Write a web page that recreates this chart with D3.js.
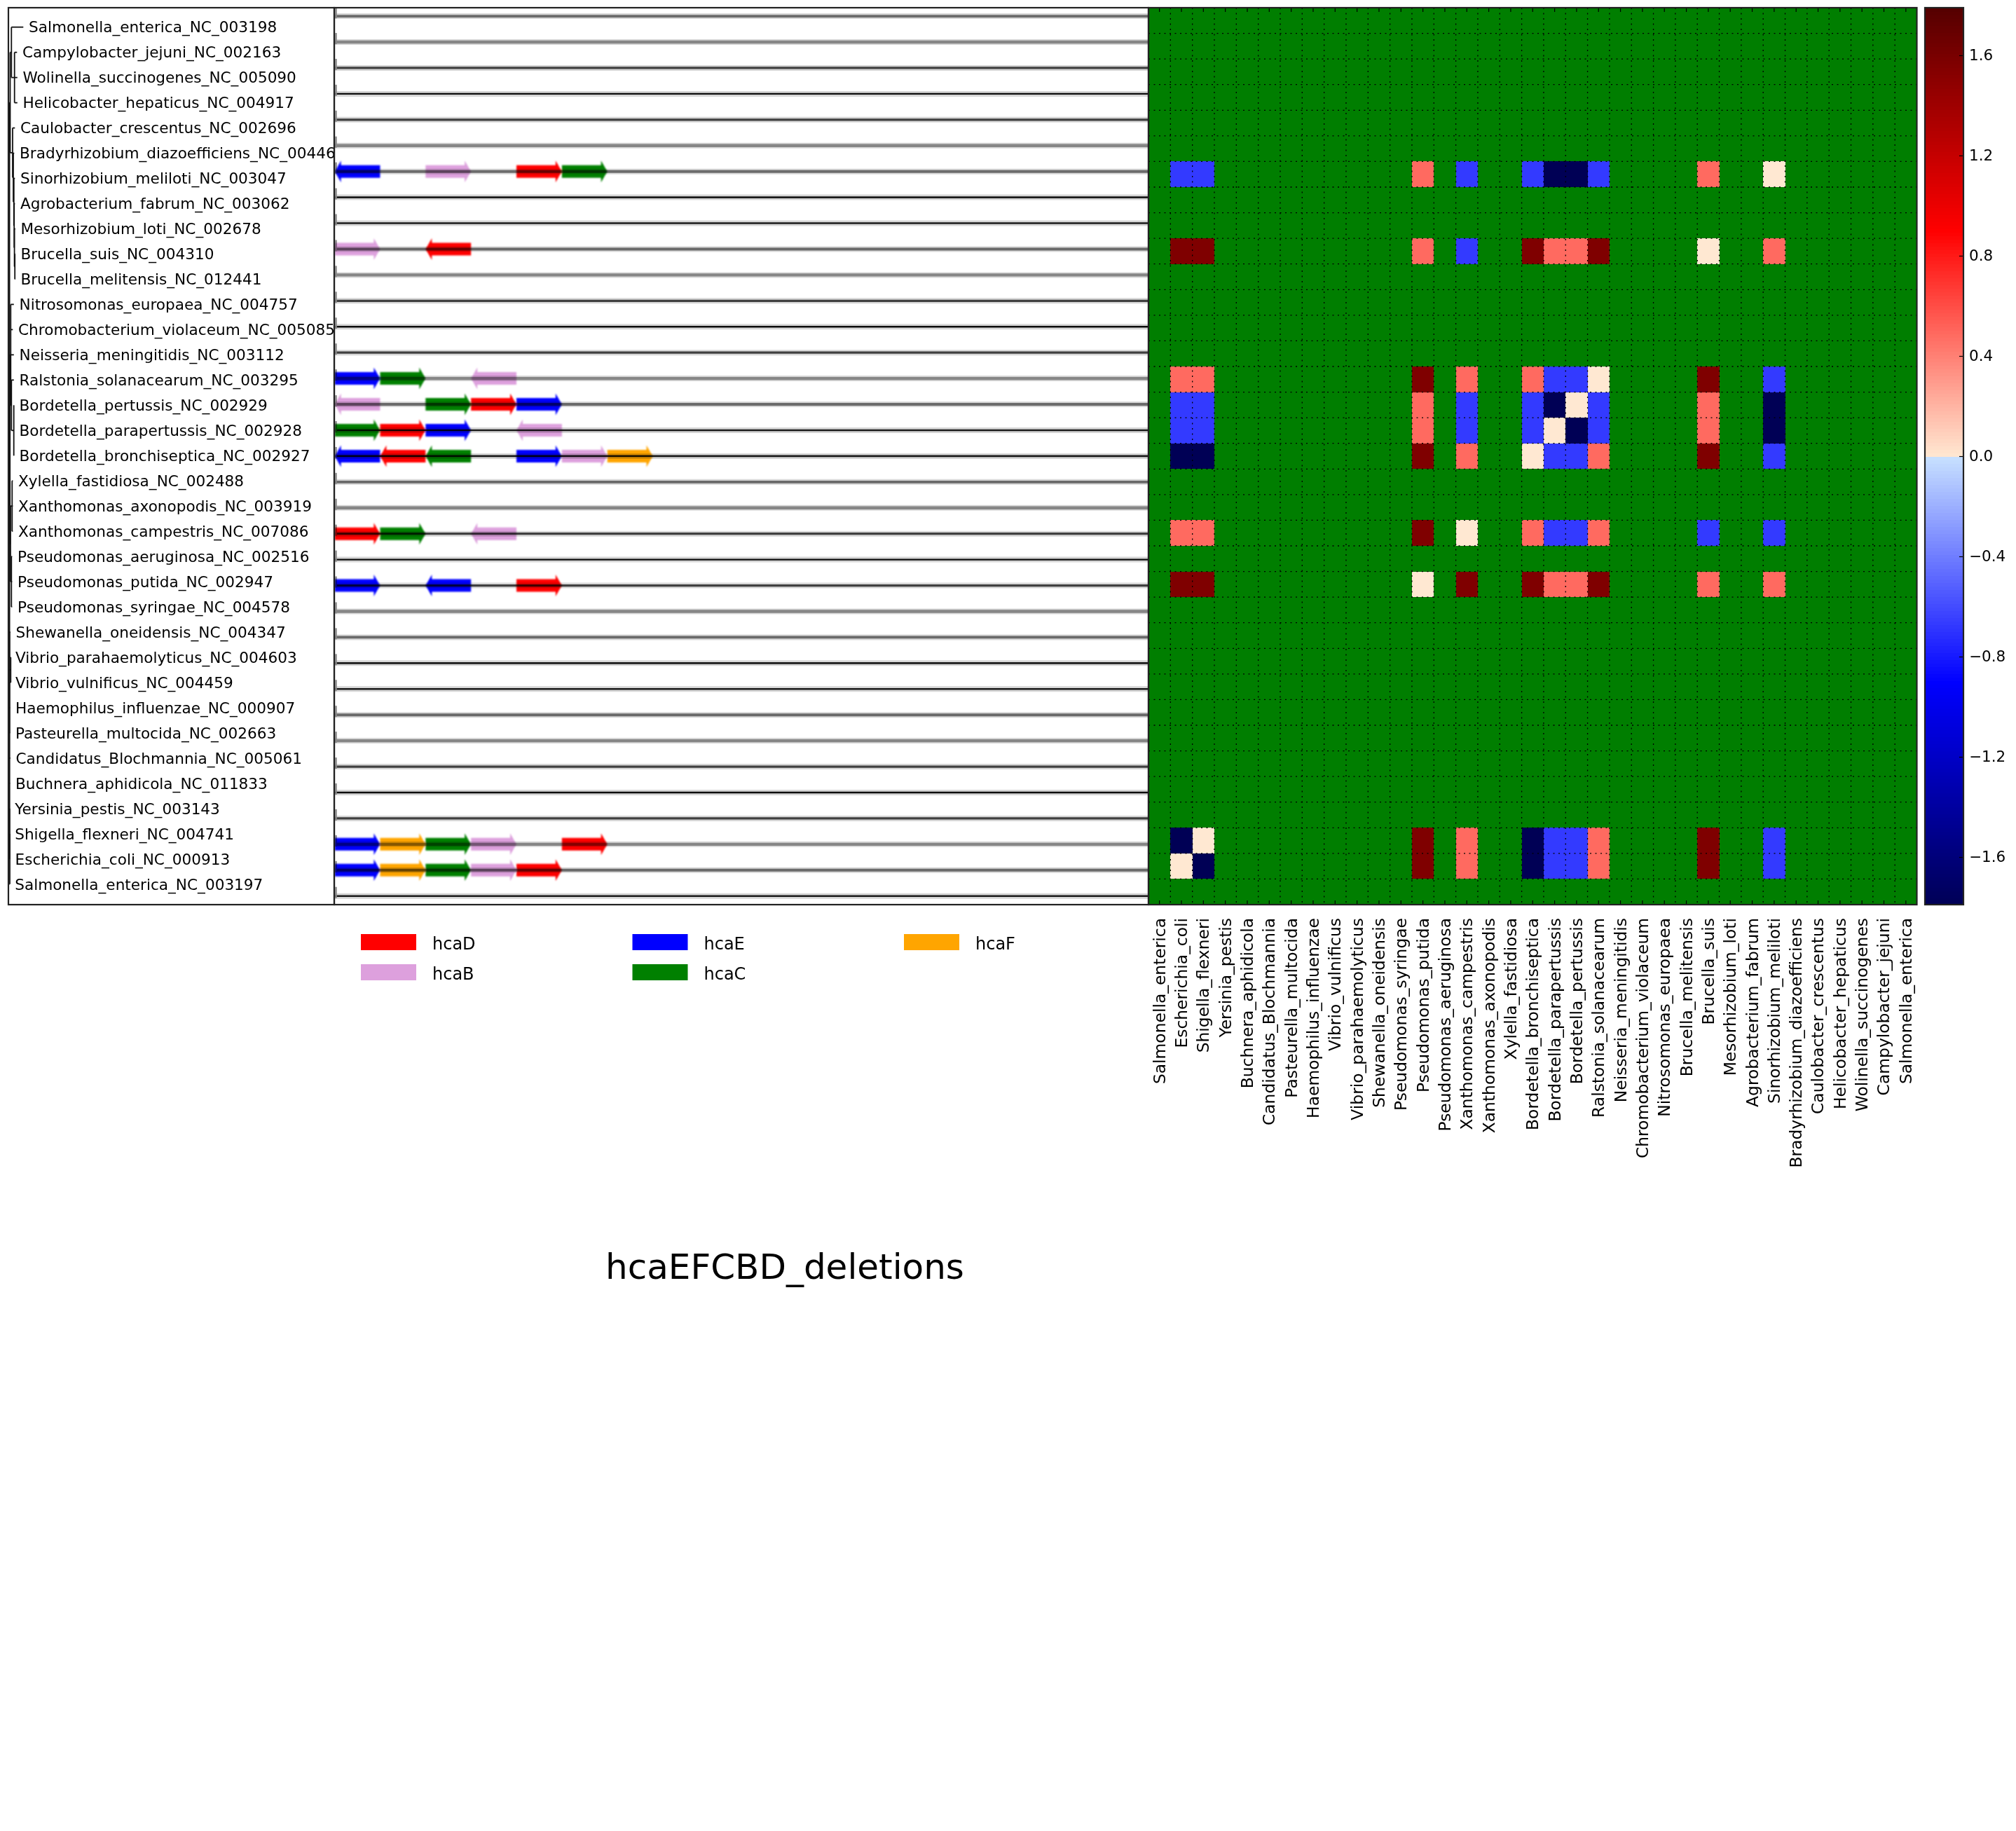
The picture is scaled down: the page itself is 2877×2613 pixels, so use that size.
<!DOCTYPE html>
<html>
<head>
<meta charset="utf-8">
<script src="https://cdn.jsdelivr.net/npm/d3@7"></script>
<style>
body { margin: 0; background: #fff; }
text { font-family: "DejaVu Sans"; fill: #000; }
</style>
</head>
<body>
<svg id="chart" width="2877" height="2613"></svg>
<script>
// leaf order of the tree, top to bottom
const species = [
    "Salmonella_enterica_NC_003198", "Campylobacter_jejuni_NC_002163", "Wolinella_succinogenes_NC_005090",
    "Helicobacter_hepaticus_NC_004917", "Caulobacter_crescentus_NC_002696", "Bradyrhizobium_diazoefficiens_NC_004463",
    "Sinorhizobium_meliloti_NC_003047", "Agrobacterium_fabrum_NC_003062", "Mesorhizobium_loti_NC_002678",
    "Brucella_suis_NC_004310", "Brucella_melitensis_NC_012441", "Nitrosomonas_europaea_NC_004757",
    "Chromobacterium_violaceum_NC_005085", "Neisseria_meningitidis_NC_003112", "Ralstonia_solanacearum_NC_003295",
    "Bordetella_pertussis_NC_002929", "Bordetella_parapertussis_NC_002928", "Bordetella_bronchiseptica_NC_002927",
    "Xylella_fastidiosa_NC_002488", "Xanthomonas_axonopodis_NC_003919", "Xanthomonas_campestris_NC_007086",
    "Pseudomonas_aeruginosa_NC_002516", "Pseudomonas_putida_NC_002947", "Pseudomonas_syringae_NC_004578",
    "Shewanella_oneidensis_NC_004347", "Vibrio_parahaemolyticus_NC_004603", "Vibrio_vulnificus_NC_004459",
    "Haemophilus_influenzae_NC_000907", "Pasteurella_multocida_NC_002663", "Candidatus_Blochmannia_NC_005061",
    "Buchnera_aphidicola_NC_011833", "Yersinia_pestis_NC_003143", "Shigella_flexneri_NC_004741",
    "Escherichia_coli_NC_000913", "Salmonella_enterica_NC_003197"
];

// distance of each leaf from the root
const tipDepth = [20.3, 11.3, 11.8, 11.8, 8.3, 7.3, 8.3, 8.3, 8.7, 8.7, 8.7, 6.8, 5.3, 6.8, 6.8, 6.8, 6.8, 6.8,
    5.3, 5.3, 5.3, 4.3, 4.3, 4.3, 1.8, 1.3, 1.3, 1.3, 1.3, 1.8, 1.3, 0.5, 0.5, 0.9, 0.5];

// clades as [depth, ...children], a plain number is a leaf index
const tree = [0.6,
    [1.5,
        [3.3, 0, [7.7, 1, 2, 3]],
        [5, 4, [6, 5, [6.8, 6, [7.2, 7, [7.6, 8, [8.2, 9, 10]]]]]]
    ],
    [1.2,
        [2.3, 11, 12, 13, [3.3, 14, [6.7, 15, 16, 17]]],
        [2, [4.3, 18, 19, 20], [3.3, 21, 22, 23]]
    ],
    [0.7, 24, [2.3, 25, 26], 27, 28, 29, 30, [0.7, 31, [1, 32, 33, 34]]]
];

// genes on the tracks: row, gene, slot along the track, strand
const geneRow =    [6, 6, 6, 6, 9, 9, 14, 14, 14, 15, 15, 15, 15, 16, 16, 16, 16, 17, 17, 17, 17, 17, 17,
    20, 20, 20, 22, 22, 22, 32, 32, 32, 32, 32, 33, 33, 33, 33, 33];
const geneName =   ["hcaE", "hcaB", "hcaD", "hcaC", "hcaB", "hcaD", "hcaE", "hcaC", "hcaB", "hcaB", "hcaC", "hcaD", "hcaE",
    "hcaC", "hcaD", "hcaE", "hcaB", "hcaE", "hcaD", "hcaC", "hcaE", "hcaB", "hcaF",
    "hcaD", "hcaC", "hcaB", "hcaE", "hcaE", "hcaD", "hcaE", "hcaF", "hcaC", "hcaB", "hcaD",
    "hcaE", "hcaF", "hcaC", "hcaB", "hcaD"];
const geneSlot =   [0, 2, 4, 5, 0, 2, 0, 1, 3, 0, 2, 3, 4, 0, 1, 2, 4, 0, 1, 2, 4, 5, 6,
    0, 1, 3, 0, 2, 4, 0, 1, 2, 3, 5, 0, 1, 2, 3, 4];
const geneStrand = [-1, 1, 1, 1, 1, -1, 1, 1, -1, -1, 1, 1, 1, 1, 1, 1, -1, -1, -1, -1, 1, 1, 1,
    1, 1, -1, 1, -1, 1, 1, 1, 1, 1, 1, 1, 1, 1, 1, 1];

const legendGenes = ["hcaD", "hcaB", "hcaE", "hcaC", "hcaF"];
const legendColors = ["#ff0000", "#dda0dd", "#0000ff", "#008000", "#ffa500"];

// heatmap columns, left to right
const heatColumns = [
    "Salmonella_enterica", "Escherichia_coli", "Shigella_flexneri", "Yersinia_pestis", "Buchnera_aphidicola",
    "Candidatus_Blochmannia", "Pasteurella_multocida", "Haemophilus_influenzae", "Vibrio_vulnificus",
    "Vibrio_parahaemolyticus", "Shewanella_oneidensis", "Pseudomonas_syringae", "Pseudomonas_putida",
    "Pseudomonas_aeruginosa", "Xanthomonas_campestris", "Xanthomonas_axonopodis", "Xylella_fastidiosa",
    "Bordetella_bronchiseptica", "Bordetella_parapertussis", "Bordetella_pertussis", "Ralstonia_solanacearum",
    "Neisseria_meningitidis", "Chromobacterium_violaceum", "Nitrosomonas_europaea", "Brucella_melitensis",
    "Brucella_suis", "Mesorhizobium_loti", "Agrobacterium_fabrum", "Sinorhizobium_meliloti",
    "Bradyrhizobium_diazoefficiens", "Caulobacter_crescentus", "Helicobacter_hepaticus", "Wolinella_succinogenes",
    "Campylobacter_jejuni", "Salmonella_enterica"
];

// only these rows and columns hold values, the rest is missing data
const heatRowIdx = [6, 9, 14, 15, 16, 17, 20, 22, 32, 33];
const heatColIdx = [1, 2, 12, 14, 17, 18, 19, 20, 25, 28];
const heatValues = [
    [-0.67, -0.67, 0.49, -0.67, -0.67, -1.79, -1.79, -0.67, 0.49, 0],
    [1.57, 1.57, 0.49, -0.67, 1.57, 0.49, 0.49, 1.57, 0, 0.49],
    [0.49, 0.49, 1.57, 0.49, 0.49, -0.67, -0.67, 0, 1.57, -0.67],
    [-0.67, -0.67, 0.49, -0.67, -0.67, -1.79, 0, -0.67, 0.49, -1.79],
    [-0.67, -0.67, 0.49, -0.67, -0.67, 0, -1.79, -0.67, 0.49, -1.79],
    [-1.79, -1.79, 1.57, 0.49, 0, -0.67, -0.67, 0.49, 1.57, -0.67],
    [0.49, 0.49, 1.57, 0, 0.49, -0.67, -0.67, 0.49, -0.67, -0.67],
    [1.57, 1.57, 0, 1.57, 1.57, 0.49, 0.49, 1.57, 0.49, 0.49],
    [-1.79, 0, 1.57, 0.49, -1.79, -0.67, -0.67, 0.49, 1.57, -0.67],
    [0, -1.79, 1.57, 0.49, -1.79, -0.67, -0.67, 0.49, 1.57, -0.67]
];
const colorTicks = [-1.6, -1.2, -0.8, -0.4, 0, 0.4, 0.8, 1.2, 1.6];
const titleText = "hcaEFCBD_deletions";

const plotTop = 11, plotBottom = 1291;
const leftX = 12, splitX = 477, heatL = 1639, heatR = 2735.5;
const barL = 2747, barR = 2802;
const n = species.length;

const svg = d3.select("#chart");
const defs = svg.append("defs");
defs.append("clipPath").attr("id", "labelClip").append("rect")
    .attr("x", leftX).attr("y", plotTop).attr("width", splitX - leftX).attr("height", plotBottom - plotTop);
defs.append("filter").attr("id", "soft")
    .attr("x", "-5%").attr("y", "-5%").attr("width", "110%").attr("height", "110%")
    .append("feGaussianBlur").attr("stdDeviation", 0.9);

/* ---------- tree and species labels ---------- */
const treeX = d3.scaleLinear().domain([0, 20.3]).range([13, 33.3]);
const labelY = d3.scaleLinear().domain([0, n - 1]).range([38.7, 1261.8]);

const treeG = svg.append("g").attr("fill", "none").attr("stroke", "#111").attr("stroke-width", 1.8);

function drawClade(node, parentDepth) {
    if (typeof node === "number") {
        const y = labelY(node);
        treeG.append("path").attr("d", `M${treeX(parentDepth)},${y}H${treeX(tipDepth[node])}`);
        return y;
    }
    const depth = node[0];
    const ys = node.slice(1).map(k => drawClade(k, depth));
    const y = (ys[0] + ys[ys.length - 1]) / 2;
    treeG.append("path").attr("d", `M${treeX(depth)},${ys[0]}V${ys[ys.length - 1]}`);
    treeG.append("path").attr("d", `M${treeX(parentDepth)},${y}H${treeX(depth)}`);
    return y;
}
drawClade(tree, 0);

svg.append("g").attr("clip-path", "url(#labelClip)")
    .selectAll("text").data(species).enter().append("text")
    .attr("x", (d, i) => treeX(tipDepth[i]) + 7.7)
    .attr("y", (d, i) => labelY(i))
    .attr("dy", "0.36em")
    .style("font-size", "21.6px")
    .text(d => d);

/* ---------- gene tracks ---------- */
const geneX = d3.scaleLinear().domain([0, 18]).range([477.6, 1645]);
const trackY = d3.scaleLinear().domain([0, n - 1]).range([23.1, 1278.7]);
const geneColor = d3.scaleOrdinal().domain(legendGenes).range(legendColors);

const arrowLine = d3.line();
function arrowPath(i) {
    const s = geneStrand[i];
    const a = geneX(s > 0 ? geneSlot[i] : geneSlot[i] + 1);
    const b = geneX(s > 0 ? geneSlot[i] + 1 : geneSlot[i]);
    const y = trackY(geneRow[i]);
    const neck = b - s * 9;
    return arrowLine([[a, y - 9], [neck, y - 9], [neck, y - 15.5], [b, y], [neck, y + 15.5], [neck, y + 9], [a, y + 9]]) + "Z";
}
svg.append("g").attr("filter", "url(#soft)")
    .selectAll("path").data(geneRow).enter().append("path")
    .attr("d", (d, i) => arrowPath(i))
    .attr("fill", (d, i) => geneColor(geneName[i]));

// tracks go in and out of focus down the panel, the original was a resampled image
const focus = i => (1 + Math.cos(2 * Math.PI * (i - 3) / 4.5)) / 2;
const trackG = svg.append("g").style("mix-blend-mode", "multiply");
d3.range(n).forEach(i => {
    const y = trackY(i), t = focus(i);
    trackG.append("line").attr("x1", splitX).attr("x2", heatL).attr("y1", y).attr("y2", y)
        .attr("stroke", "#000").attr("stroke-opacity", 0.16).attr("stroke-width", 8);
    trackG.append("line").attr("x1", splitX).attr("x2", heatL).attr("y1", y).attr("y2", y)
        .attr("stroke", d3.interpolateRgb("#8a8a8a", "#0c0c0c")(t))
        .attr("stroke-width", 4.4 - 2 * t);
    trackG.append("line").attr("x1", splitX + 2.5).attr("x2", splitX + 2.5).attr("y1", y - 13).attr("y2", y + 3)
        .attr("stroke", "#8a8a8a").attr("stroke-width", 2.5);
});

/* ---------- heatmap ---------- */
const heatX = d3.scaleBand().domain(d3.range(n)).range([heatL, heatR]);
const heatY = d3.scaleBand().domain(d3.range(n)).range([plotTop, plotBottom]);
const color = d3.scaleLinear()
    .domain([-1.79, -0.9, -0.0001, 0, 0.9, 1.79])
    .range(["#000055", "#0000ff", "#c8e1ff", "#ffe8d2", "#ff0000", "#550000"]);

const cells = [];
d3.range(n).forEach(r => d3.range(n).forEach(c => {
    const ri = heatRowIdx.indexOf(r), ci = heatColIdx.indexOf(c);
    cells.push({r, c, v: ri >= 0 && ci >= 0 ? heatValues[ri][ci] : null});
}));
svg.append("g").attr("shape-rendering", "crispEdges")
    .selectAll("rect").data(cells).enter().append("rect")
    .attr("x", d => heatX(d.c))
    .attr("y", d => heatY(d.r))
    .attr("width", heatX.bandwidth() + 0.5)
    .attr("height", heatY.bandwidth() + 0.5)
    .attr("fill", d => d.v === null ? "#007e00" : color(d.v));

const grid = svg.append("g").attr("stroke", "#000").attr("stroke-width", 1.3).attr("stroke-dasharray", "2 5.5");
grid.selectAll(".gx").data(d3.range(1, n)).enter().append("line")
    .attr("x1", d => heatX(d)).attr("x2", d => heatX(d)).attr("y1", plotTop).attr("y2", plotBottom);
grid.selectAll(".gy").data(d3.range(1, n)).enter().append("line")
    .attr("x1", heatL).attr("x2", heatR).attr("y1", d => heatY(d)).attr("y2", d => heatY(d));

const xAxis = svg.append("g").attr("transform", `translate(0,${plotBottom})`)
    .call(d3.axisBottom(heatX).tickSizeInner(-6).tickSizeOuter(0).tickPadding(0).tickFormat(d => heatColumns[d]));
xAxis.select(".domain").remove();
xAxis.selectAll(".tick line").attr("stroke", "#000").attr("stroke-width", 1.2);
xAxis.selectAll(".tick text")
    .attr("transform", "rotate(-90)")
    .attr("x", -19).attr("y", 0).attr("dy", "0.34em")
    .attr("text-anchor", "end")
    .style("font-family", "DejaVu Sans")
    .style("font-size", "23.4px");

const xTop = svg.append("g").attr("transform", `translate(0,${plotTop})`)
    .call(d3.axisTop(heatX).tickSizeInner(-6).tickSizeOuter(0).tickFormat(""));
xTop.select(".domain").remove();
xTop.selectAll(".tick line").attr("stroke", "#000").attr("stroke-width", 1.2);

/* ---------- frames ---------- */
const frames = [[leftX, splitX], [splitX, heatL], [heatL, heatR]];
svg.append("g").attr("fill", "none").attr("stroke", "#222").attr("stroke-width", 2.2)
    .selectAll("rect").data(frames).enter().append("rect")
    .attr("x", d => d[0]).attr("y", plotTop)
    .attr("width", d => d[1] - d[0]).attr("height", plotBottom - plotTop);

/* ---------- colour bar ---------- */
const barY = d3.scaleLinear().domain([-1.79, 1.79]).range([plotBottom, plotTop]);
const barLevels = d3.range(-1.79, 1.79, 3.58 / 256);
svg.append("g").attr("shape-rendering", "crispEdges")
    .selectAll("rect").data(barLevels).enter().append("rect")
    .attr("x", barL).attr("width", barR - barL)
    .attr("y", d => barY(d + 3.58 / 256))
    .attr("height", (plotBottom - plotTop) / 256 + 0.6)
    .attr("fill", d => color(d + 3.58 / 512));

const barAxis = svg.append("g").attr("transform", `translate(${barR},0)`)
    .call(d3.axisRight(barY).tickValues(colorTicks).tickSizeInner(-6).tickSizeOuter(0).tickPadding(8)
        .tickFormat(d3.format(".1f")));
barAxis.select(".domain").remove();
barAxis.selectAll(".tick line").attr("stroke", "#000").attr("stroke-width", 1.2);
barAxis.selectAll(".tick text").style("font-family", "DejaVu Sans").style("font-size", "21.5px");
svg.append("rect").attr("x", barL).attr("y", plotTop).attr("width", barR - barL).attr("height", plotBottom - plotTop)
    .attr("fill", "none").attr("stroke", "#222").attr("stroke-width", 2.2);

/* ---------- legend and title ---------- */
const legendX = d3.scalePoint().domain([0, 1, 2]).range([515, 1290]);
const legendY = d3.scalePoint().domain([0, 1]).range([1333, 1376]);
const legend = svg.append("g").selectAll("g").data(legendGenes).enter().append("g")
    .attr("transform", (d, i) => `translate(${legendX(Math.floor(i / 2))},${legendY(i % 2)})`);
legend.append("rect").attr("width", 79).attr("height", 23).attr("fill", d => geneColor(d));
legend.append("text").attr("x", 102).attr("y", 22).style("font-size", "24px").text(d => d);

svg.append("text").attr("x", 864).attr("y", 1825)
    .style("font-size", "50px")
    .text(titleText);
</script>
</body>
</html>
